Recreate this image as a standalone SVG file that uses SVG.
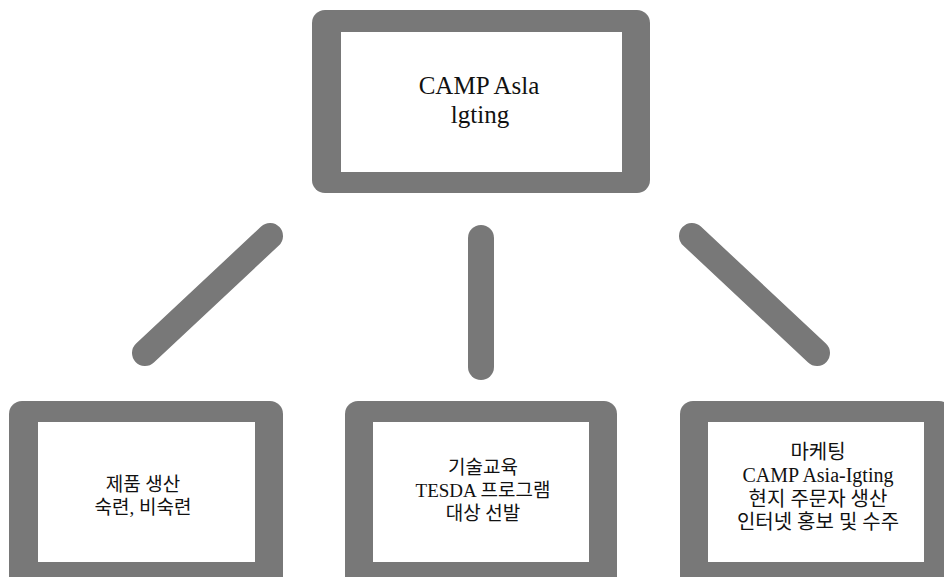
<svg xmlns="http://www.w3.org/2000/svg" width="944" height="577" viewBox="0 0 944 577">
<style>
.frame{fill:#787878}
.inner{fill:#ffffff}
.conn{stroke:#787878;stroke-width:26;stroke-linecap:round;fill:none}
.t{font-family:"Liberation Serif","Noto Sans CJK KR",serif;fill:#111;text-anchor:middle}
.big{font-size:25px}
.sm{font-size:19px}
.md{font-size:20px}
</style>
<rect width="944" height="577" fill="#ffffff"/>
<g id="connectors">
<line class="conn" x1="145" y1="353" x2="270" y2="236"/>
<line class="conn" x1="481" y1="238" x2="481" y2="367"/>
<line class="conn" x1="692" y1="236" x2="817" y2="353"/>
</g>
<g id="node-top">
<rect class="frame" x="312" y="10" width="338" height="183" rx="13"/>
<rect class="inner" x="341" y="32" width="281" height="140"/>
<text class="t big" x="479" y="94">CAMP Asla</text>
<text class="t big" x="480" y="123">lgting</text>
</g>
<g id="node-left">
<rect class="frame" x="9" y="401" width="274" height="190" rx="13"/>
<rect class="inner" x="38" y="422" width="217" height="140"/>
<text class="t sm" x="143" y="491">제품 생산</text>
<text class="t sm" x="143" y="514">숙련, 비숙련</text>
</g>
<g id="node-middle">
<rect class="frame" x="345" y="401" width="272" height="190" rx="13"/>
<rect class="inner" x="373" y="422" width="216" height="140"/>
<text class="t sm" x="483" y="474">기술교육</text>
<text class="t sm" x="483" y="497">TESDA 프로그램</text>
<text class="t sm" x="483" y="520">대상 선발</text>
</g>
<g id="node-right">
<rect class="frame" x="680" y="401" width="272" height="190" rx="13"/>
<rect class="inner" x="708" y="422" width="216" height="140"/>
<text class="t md" x="818" y="459">마케팅</text>
<text class="t md" x="818" y="482">CAMP Asia-Igting</text>
<text class="t md" x="818" y="506">현지 주문자 생산</text>
<text class="t md" x="818" y="529">인터넷 홍보 및 수주</text>
</g>
</svg>
